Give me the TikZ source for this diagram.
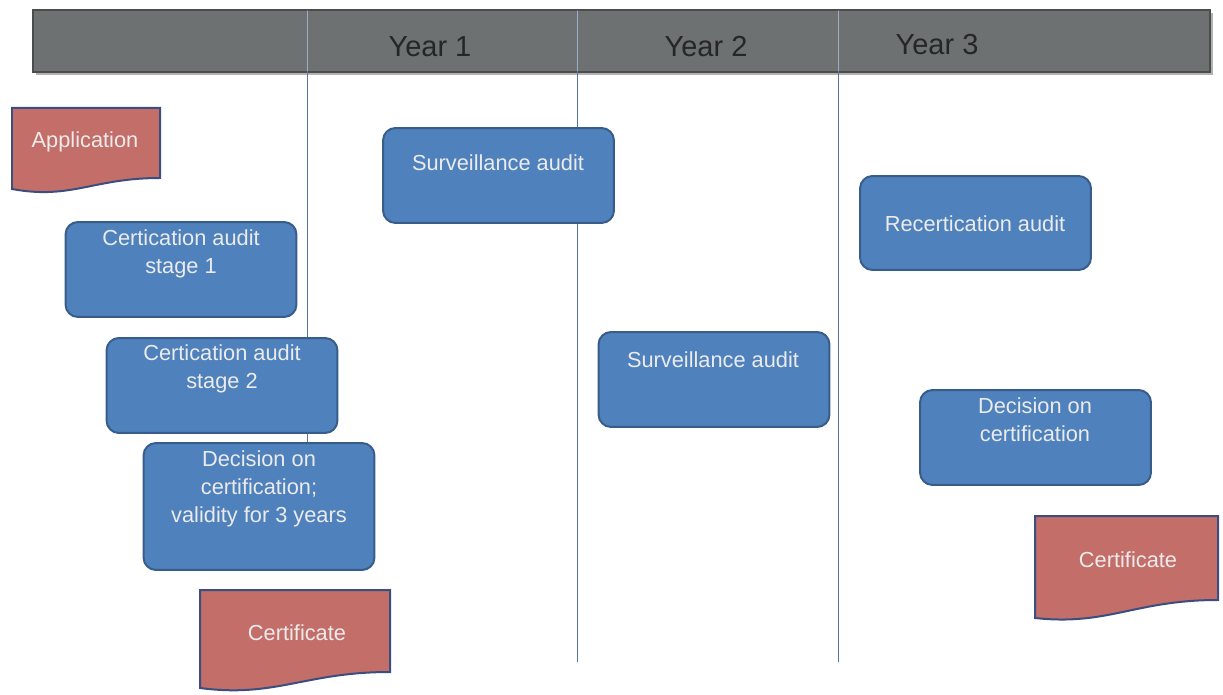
\documentclass[tikz,border=0pt]{standalone}
\usepackage{fontspec}
\setmainfont{Liberation Sans}

\definecolor{barfill}{HTML}{6D7171}
\definecolor{boxfill}{HTML}{4F81BD}
\definecolor{boxline}{HTML}{385D8A}
\definecolor{docfill}{HTML}{C46E6A}
\definecolor{docline}{HTML}{3B4E7E}
\definecolor{yearcol}{HTML}{5A74A0}

\tikzset{
  auditbox/.style={draw=boxline, fill=boxfill, line width=0.04cm, rounded corners=0.25cm,
    minimum width=4.62cm, minimum height=1.9cm},
  boxtext/.style={text=white!92!black, align=center, font=\fontsize{12.4}{15.8}\selectfont},
  yeartext/.style={text=black!85, font=\fontsize{16.5}{20}\selectfont},
  docpaper/.style={draw=docline, fill=docfill, line width=0.04cm},
  yearline/.style={draw=yearcol, line width=0.02cm}
}

\begin{document}
\begin{tikzpicture}[x={(0.02cm,0)}, y={(0,-0.02cm)}]
	\useasboundingbox (0,0) rectangle (1223,695);
	% header bar
	\fill[black!30] (36,13) rectangle (1213,75);
	\node[draw=black!70, fill=barfill, line width=0.03cm, minimum width=23.54cm, minimum height=1.24cm, inner sep=0pt] (bar) at (621.5,41) {};
	\node[yeartext] (y1) at (430,47) {Year 1};
	\node[yeartext] (y2) at (706,47) {Year 2};
	\node[yeartext] (y3) at (937,45) {Year 3};
	% year lines
	\draw[yearline] (307,10) -- (307,500);
	\draw[yearline] (577,10) -- (577,662);
	\draw[yearline] (838,10) -- (838,662);
	\draw[yearline, draw=yearcol!60!white] (307,11) -- (307,71) (577,11) -- (577,71) (838,11) -- (838,71);
	% documents
	\draw[docpaper] (12,108) -- (160,108) -- (160,178) .. controls (93,178) and (71,200) .. (12,189) -- cycle;
	\node[boxtext] (app) at (85,142) {Application};
	\draw[docpaper] (200,590) -- (390,590) -- (390,672) .. controls (305,672) and (276,698) .. (200,688) -- cycle;
	\node[boxtext] (cert1) at (297,633) {Certificate};
	\draw[docpaper] (1035,516) -- (1218,516) -- (1218,600) .. controls (1135,600) and (1108,626) .. (1035,618) -- cycle;
	\node[boxtext] (cert2) at (1128,560) {Certificate};
	% first cycle
	\node[auditbox] (cs1) at (181,269.5) {};
	\node[boxtext] (cs1t) at (181,254) {Certication audit\\stage 1};
	\node[auditbox] (cs2) at (222,385.5) {};
	\node[boxtext] (cs2t) at (222,369) {Certication audit\\stage 2};
	\node[auditbox, minimum height=2.54cm] (dec1) at (259,506.5) {};
	\node[boxtext] (dec1t) at (259,489) {Decision on\\certification;\\validity for 3 years};
	% surveillance
	\node[auditbox] (sa1) at (498.5,175.5) {};
	\node[boxtext] (sa1t) at (498,163) {Surveillance audit};
	\node[auditbox] (sa2) at (714,379.5) {};
	\node[boxtext] (sa2t) at (713,360) {Surveillance audit};
	% recertification
	\node[auditbox, minimum height=1.88cm] (rec) at (975.5,223) {};
	\node[boxtext] (rect) at (975,224) {Recertication audit};
	\node[auditbox] (dec2) at (1035.5,437.5) {};
	\node[boxtext] (dec2t) at (1035,420) {Decision on\\certification};
\end{tikzpicture}
\end{document}
